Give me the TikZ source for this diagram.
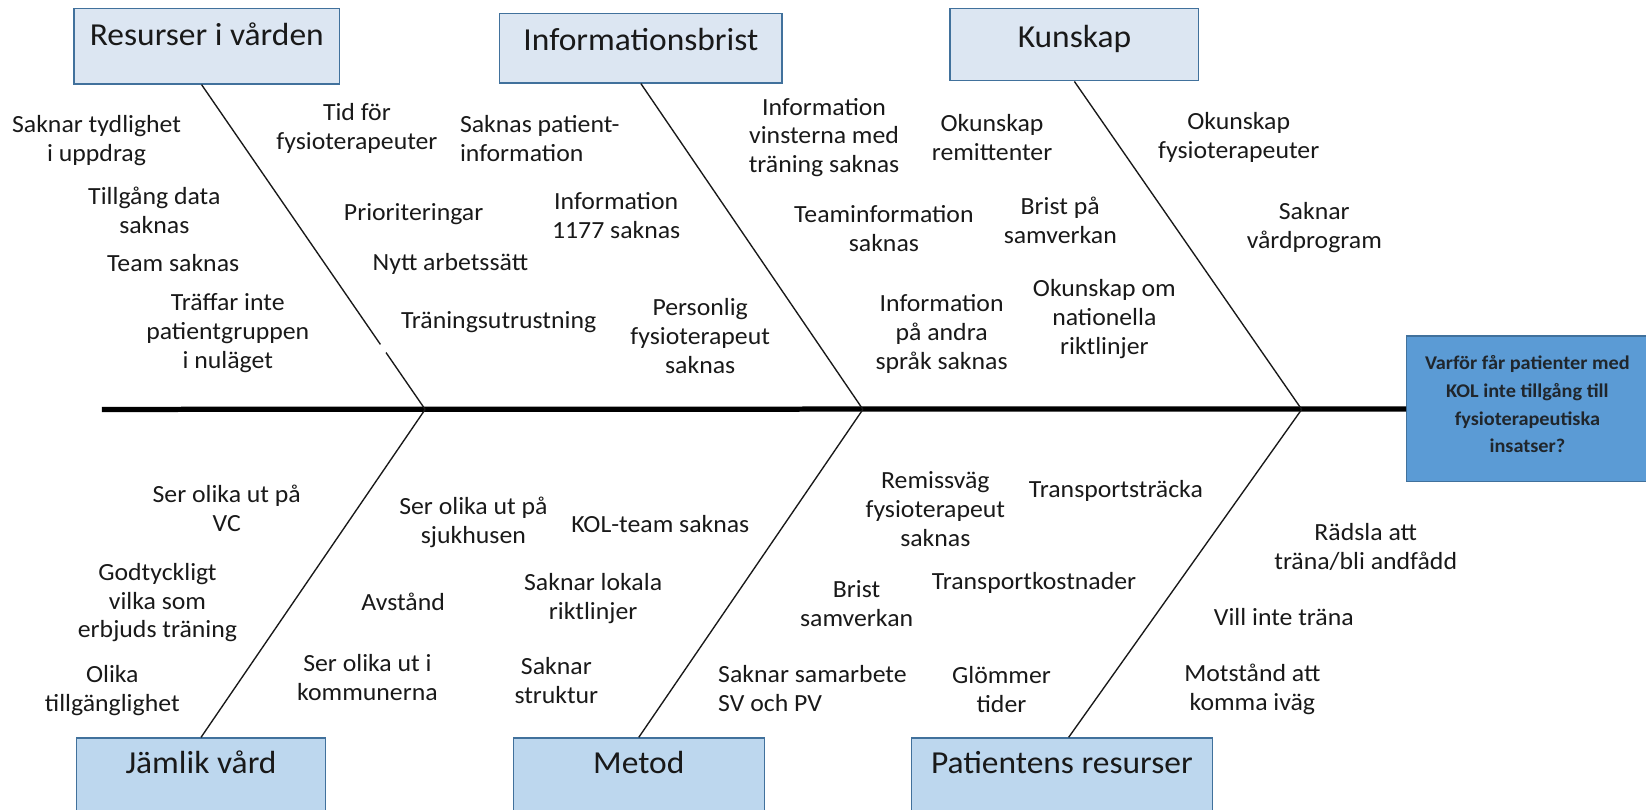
\documentclass[tikz,border=0pt]{standalone}
\usepackage{fontspec}
\setmainfont{Carlito}[FakeStretch=1.045]
\usetikzlibrary{calc}
\definecolor{topfill}{RGB}{220,230,242}
\definecolor{botfill}{RGB}{189,215,238}
\definecolor{boxdraw}{RGB}{65,113,156}
\definecolor{efffill}{RGB}{91,155,213}
\definecolor{txt}{RGB}{25,25,25}
\begin{document}
\begin{tikzpicture}[x=1pt,y=-1pt,
  lbl/.style={font=\fontsize{23.5}{27.5}\selectfont, align=center, inner sep=0pt, text=txt},
  catbox/.style={draw=boxdraw, line width=1.2pt, inner sep=0pt, text=txt,
    font=\fontsize{30.5}{36}\selectfont},
  topbox/.style={catbox, fill=topfill},
  botbox/.style={catbox, fill=botfill, text height=34pt, text depth=38pt},
  effbox/.style={draw=boxdraw, line width=1.2pt, fill=efffill, inner sep=0pt},
  efftxt/.style={font=\bfseries\fontsize{18.5}{26.5}\selectfont, align=center, inner sep=0pt, text=txt!90!efffill},
  rib/.style={draw=txt, line width=1.3pt},
  spine/.style={draw=black, line width=5pt}
]
\useasboundingbox (0,0) rectangle (1568,771);
% category boxes
\node[topbox, minimum width=253pt, text height=35pt, text depth=37pt] (b1) at (197,44) {Resurser i vården};
\node[topbox, minimum width=269pt, text height=35pt, text depth=31pt] (b2) at (610.5,46) {Informationsbrist};
\node[topbox, minimum width=237pt, text height=37pt, text depth=32pt] (b3) at (1023.5,42.5) {Kunskap};
\node[botbox, minimum width=237pt] (b4) at (191.5,739) {Jämlik vård};
\node[botbox, minimum width=239pt] (b5) at (608.5,739) {Metod};
\node[botbox, minimum width=287pt] (b6) at (1011.5,739) {Patientens resurser};
% effect
\node[effbox, minimum width=232pt, minimum height=139pt] (eff) at (1456,389.5) {};
\node[efftxt] (effq) at (1455,385) {Varför får patienter med\\KOL inte tillgång till\\fysioterapeutiska\\insatser?};
% spine and junctions
\coordinate (s0) at (97,390);
\coordinate (j1) at (405,390);
\coordinate (j2) at (822,390);
\coordinate (j3) at (1240,390);
\coordinate (r1) at ([xshift=-5pt]b1.south);
\coordinate (r6) at ([xshift=6.5pt]b6.north);
\draw[spine] (s0) -- (eff.west);
\draw[rib] (r1) -- ($(r1)!0.80!(j1)$);
\draw[rib] ($(r1)!0.825!(j1)$) -- (j1);
\draw[rib] (b2.south) -- (j2);
\draw[rib] (b3.south) -- (j3);
\draw[rib] (j1) -- (b4.north);
\draw[rib] (j2) -- (b5.north);
\draw[rib] (j3) -- (r6);
% labels top
\node[lbl] (l1) at (92,134) {Saknar tydlighet\\i uppdrag};
\node[lbl] (l2) at (147,200) {Tillgång data\\saknas};
\node[lbl] (l3) at (165,251) {Team saknas};
\node[lbl] (l4) at (217,317) {Träffar inte\\patientgruppen\\i nuläget};
\node[lbl] (l5) at (340,122) {Tid för\\fysioterapeuter};
\node[lbl] (l6) at (394,204) {Prioriteringar};
\node[lbl] (l7) at (429,251) {Nytt arbetssätt};
\node[lbl] (l8) at (475,307) {Träningsutrustning};
\node[lbl, anchor=west, align=left] (l9) at (438,132) {Saknas patient-\\information};
\node[lbl] (l10) at (587,205) {Information\\1177 saknas};
\node[lbl] (l11) at (667,320) {Personlig\\fysioterapeut\\saknas};
\node[lbl] (l12) at (785,131) {Information\\vinsterna med\\träning saknas};
\node[lbl] (l13) at (842,218) {Teaminformation\\saknas};
\node[lbl] (l14) at (897,318) {Information\\på andra\\språk saknas};
\node[lbl] (l15) at (945,131) {Okunskap\\remittenter};
\node[lbl] (l16) at (1010,210) {Brist på\\samverkan};
\node[lbl] (l17) at (1052,304) {Okunskap om\\nationella\\riktlinjer};
\node[lbl] (l18) at (1180,131) {Okunskap\\fysioterapeuter};
\node[lbl] (l19) at (1252,217) {Saknar\\vårdprogram};
% labels bottom
\node[lbl] (l20) at (216,484) {Ser olika ut på\\VC};
\node[lbl] (l21) at (150,574) {Godtyckligt\\vilka som\\erbjuds träning};
\node[lbl] (l22) at (107,658) {Olika\\tillgänglighet};
\node[lbl] (l23) at (451,498) {Ser olika ut på\\sjukhusen};
\node[lbl] (l24) at (384,573) {Avstånd};
\node[lbl] (l25) at (350,645) {Ser olika ut i\\kommunerna};
\node[lbl] (l26) at (629,499) {KOL-team saknas};
\node[lbl] (l27) at (565,570) {Saknar lokala\\riktlinjer};
\node[lbl] (l28) at (530,648) {Saknar\\struktur};
\node[lbl] (l29) at (891,485) {Remissväg\\fysioterapeut\\saknas};
\node[lbl] (l30) at (1063,468) {Transportsträcka};
\node[lbl] (l31) at (816,575) {Brist\\samverkan};
\node[lbl] (l32) at (985,555) {Transportkostnader};
\node[lbl, anchor=west, align=left] (l33) at (684,656) {Saknar samarbete\\SV och PV};
\node[lbl] (l34) at (954,657) {Glömmer\\tider};
\node[lbl] (l35) at (1301,521) {Rädsla att\\träna/bli andfådd};
\node[lbl] (l36) at (1223,588) {Vill inte träna};
\node[lbl] (l37) at (1193,657) {Motstånd att\\komma iväg};
\end{tikzpicture}
\end{document}
